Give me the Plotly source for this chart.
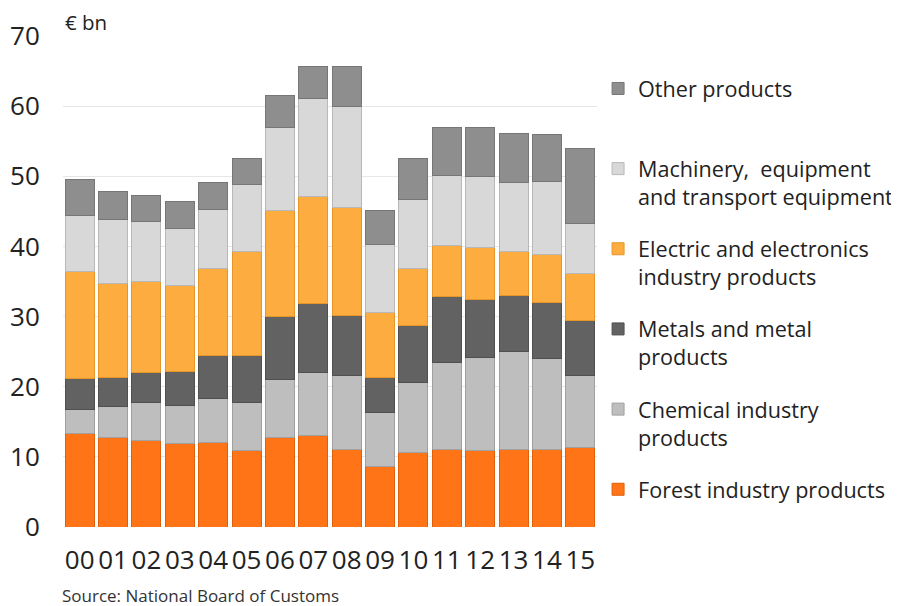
import plotly.graph_objects as go

years = ["00", "01", "02", "03", "04", "05", "06", "07", "08", "09", "10", "11", "12", "13", "14", "15"]

forest = [13.3, 12.8, 12.4, 11.9, 12.1, 10.9, 12.8, 13.0, 11.1, 8.6, 10.6, 11.0, 10.9, 11.1, 11.1, 11.4]
chemical = [3.5, 4.4, 5.4, 5.4, 6.2, 6.9, 8.3, 9.0, 10.5, 7.7, 10.0, 12.5, 13.3, 13.9, 12.9, 10.2]
metals = [4.4, 4.1, 4.2, 4.9, 6.2, 6.7, 8.9, 9.9, 8.5, 5.0, 8.1, 9.3, 8.3, 8.0, 8.0, 7.9]
electric = [15.2, 13.4, 13.0, 12.3, 12.3, 14.8, 15.1, 15.2, 15.4, 9.3, 8.1, 7.4, 7.4, 6.3, 6.8, 6.6]
machinery = [8.0, 9.1, 8.5, 8.1, 8.4, 9.6, 11.9, 14.0, 14.4, 9.7, 9.9, 9.9, 10.1, 9.8, 10.5, 7.1]
other = [5.1, 4.0, 3.8, 3.8, 3.9, 3.6, 4.5, 4.6, 5.7, 4.8, 5.8, 6.8, 6.9, 7.0, 6.7, 10.8]

# bottom to top of the stack
series = [
    ("Forest industry products", forest, "#FF7417", "#E0600A"),
    ("Chemical industry<br>products", chemical, "#BEBEBE", "#A0A0A0"),
    ("Metals and metal<br>products", metals, "#626262", "#505050"),
    ("Electric and electronics<br>industry products", electric, "#FDAD3F", "#E69528"),
    ("Machinery,  equipment<br>and transport equipment", machinery, "#D8D8D8", "#B8B8B8"),
    ("Other products<br>\u00a0", other, "#8E8E8E", "#767676"),
]

FONT = "Open Sans"

fig = go.Figure()
for i, (name, vals, col, edge) in enumerate(series):
    fig.add_trace(go.Bar(
        x=years, y=vals, name=name,
        legendgroup=f"g{i}",
        legendrank=len(series) - i,
        marker=dict(color=col, line=dict(color=edge, width=1)),
    ))

# page body has an 8px margin; figure is made a bit wider so the legend
# padding does not push the plot area (the overflow is just cropped)
fig.update_layout(
    barmode="stack",
    bargap=0.13,
    width=905, height=598,
    margin=dict(l=55, r=316, t=28, b=79),
    paper_bgcolor="white",
    plot_bgcolor="white",
    font=dict(family=FONT, color="#222222"),
    legend=dict(
        x=1.002, xanchor="left",
        y=0.935, yanchor="top",
        traceorder="grouped",
        tracegroupgap=21,
        valign="top",
        font=dict(size=21.6, family=FONT, color="#222222"),
        itemwidth=30,
    ),
    xaxis=dict(
        tickfont=dict(size=26, family=FONT, color="#222222"),
        tickangle=0, automargin=False,
        ticks="outside", ticklen=10, tickcolor="rgba(0,0,0,0)",
        showline=False, showgrid=False,
    ),
    yaxis=dict(
        range=[0, 70], dtick=10, automargin=False,
        tickfont=dict(size=26, family=FONT, color="#222222"),
        ticks="outside", ticklen=17, tickcolor="rgba(0,0,0,0)",
        gridcolor="#E6E6E6", gridwidth=1,
        zeroline=False, showline=False,
    ),
    annotations=[
        dict(text="€ bn", xref="paper", yref="paper", x=0.0, y=1.028,
             xanchor="left", yanchor="middle", showarrow=False,
             font=dict(size=20.5, family=FONT, color="#222222")),
        dict(text="Source: National Board of Customs", xref="paper", yref="paper",
             x=-0.006, y=-0.139, xanchor="left", yanchor="middle", showarrow=False,
             font=dict(size=17, family=FONT, color="#333333")),
    ],
)

fig.write_html("out.html")
